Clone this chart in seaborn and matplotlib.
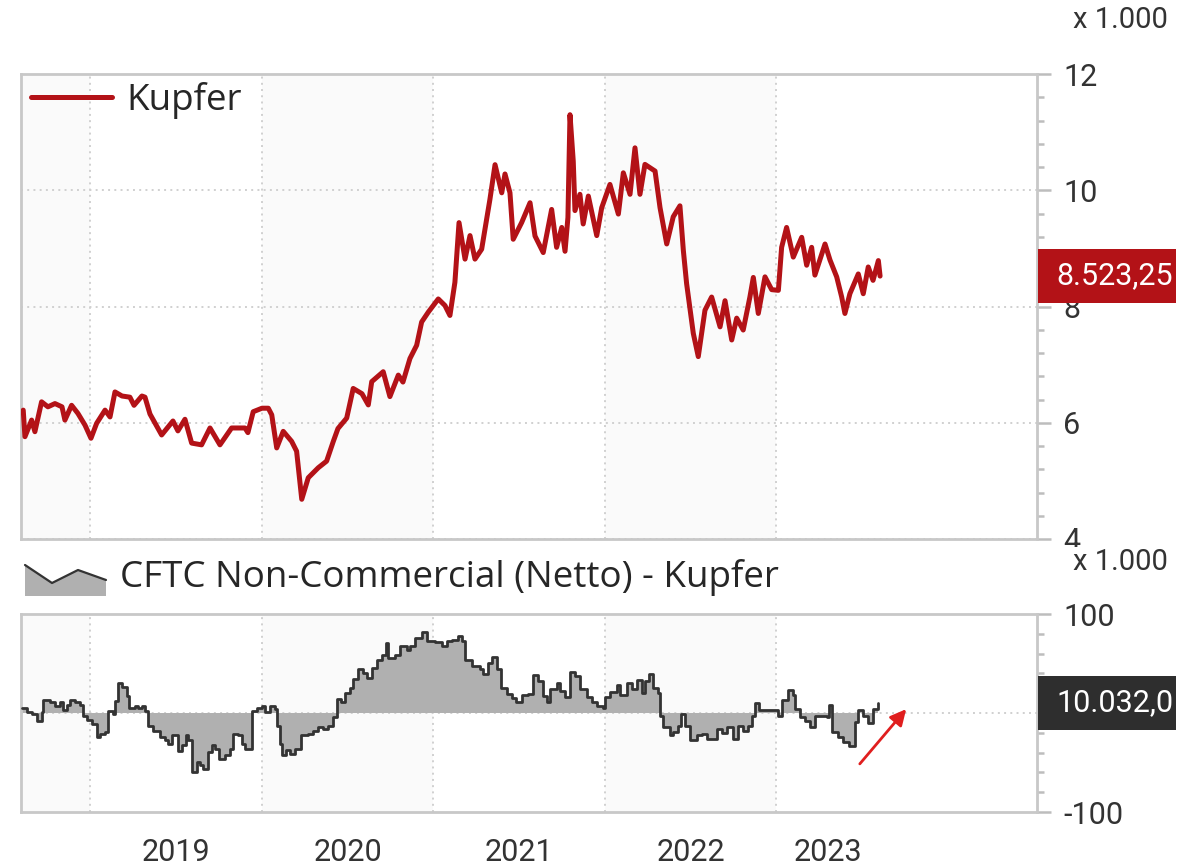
import numpy as np
import pandas as pd
import matplotlib
matplotlib.use("Agg")
import matplotlib.pyplot as plt
from matplotlib.patches import Rectangle, Polygon
from matplotlib.lines import Line2D
from matplotlib.transforms import IdentityTransform, blended_transform_factory
from matplotlib.ticker import MultipleLocator, FixedLocator, FuncFormatter
import seaborn as sns

# copper price (USD/t), dates as decimal years
price_years = [
    2018.608, 2018.618, 2018.657, 2018.676, 2018.715, 2018.752, 2018.793, 2018.834, 2018.851, 2018.890,
    2018.927, 2018.968, 2019.003, 2019.036, 2019.085, 2019.114, 2019.143, 2019.184, 2019.230, 2019.254,
    2019.300, 2019.318, 2019.347, 2019.415, 2019.481, 2019.510, 2019.551, 2019.590, 2019.648, 2019.697,
    2019.755, 2019.823, 2019.901, 2019.918, 2019.949, 2020.000, 2020.037, 2020.057, 2020.086, 2020.124,
    2020.173, 2020.202, 2020.232, 2020.270, 2020.328, 2020.377, 2020.416, 2020.443, 2020.494, 2020.532,
    2020.583, 2020.620, 2020.640, 2020.707, 2020.746, 2020.795, 2020.822, 2020.863, 2020.902, 2020.931,
    2020.970, 2021.028, 2021.067, 2021.096, 2021.125, 2021.149, 2021.184, 2021.213, 2021.242, 2021.281,
    2021.310, 2021.329, 2021.359, 2021.398, 2021.417, 2021.446, 2021.465, 2021.514, 2021.563, 2021.592,
    2021.640, 2021.689, 2021.718, 2021.748, 2021.767, 2021.784, 2021.796, 2021.815, 2021.825, 2021.854,
    2021.873, 2021.903, 2021.952, 2021.981, 2022.029, 2022.078, 2022.107, 2022.146, 2022.175, 2022.204,
    2022.233, 2022.292, 2022.321, 2022.360, 2022.398, 2022.437, 2022.457, 2022.476, 2022.515, 2022.544,
    2022.583, 2022.622, 2022.671, 2022.700, 2022.739, 2022.768, 2022.806, 2022.845, 2022.865, 2022.894,
    2022.933, 2022.972, 2023.011, 2023.030, 2023.059, 2023.098, 2023.147, 2023.176, 2023.205, 2023.224,
    2023.283, 2023.312, 2023.351, 2023.380, 2023.399, 2023.428, 2023.477, 2023.506, 2023.535, 2023.563,
    2023.594, 2023.604,
]
price_values = [
    6217, 5760, 6046, 5846, 6360, 6274, 6330, 6274, 6046, 6300,
    6160, 5960, 5733, 5990, 6217, 6100, 6530, 6460, 6440, 6300,
    6460, 6440, 6150, 5790, 6030, 5860, 6060, 5650, 5620, 5910,
    5620, 5910, 5910, 5830, 6190, 6250, 6250, 6136, 5567, 5852,
    5680, 5510, 4683, 5054, 5225, 5340, 5680, 5900, 6080, 6590,
    6500, 6307, 6707, 6878, 6450, 6820, 6700, 7106, 7333, 7733,
    7904, 8130, 8017, 7846, 8417, 9443, 8815, 9220, 8815, 8986,
    9500, 9840, 10440, 9956, 10280, 9956, 9157, 9443, 9785, 9213,
    8928, 9670, 9018, 9360, 8950, 9532, 11300, 10500, 9650, 9930,
    9420, 9900, 9220, 9700, 10100, 9590, 10300, 9930, 10730, 9930,
    10445, 10330, 9700, 9076, 9544, 9732, 8962, 8393, 7538, 7138,
    7936, 8163, 7650, 8100, 7424, 7800, 7595, 8163, 8500, 7880,
    8510, 8290, 8278, 9018, 9360, 8850, 9190, 8710, 9018, 8540,
    9075, 8800, 8510, 8165, 7880, 8220, 8560, 8220, 8680, 8450,
    8790, 8523.25,
]

# CFTC non-commercial net position (x 1.000 contracts)
cftc_years = [
    2018.602, 2018.628, 2018.657, 2018.686, 2018.715, 2018.725, 2018.764, 2018.793, 2018.822, 2018.841,
    2018.861, 2018.880, 2018.910, 2018.939, 2018.958, 2018.978, 2019.010, 2019.036, 2019.055, 2019.085,
    2019.104, 2019.133, 2019.143, 2019.162, 2019.182, 2019.211, 2019.224, 2019.259, 2019.279, 2019.299,
    2019.318, 2019.337, 2019.366, 2019.405, 2019.434, 2019.454, 2019.473, 2019.508, 2019.532, 2019.555,
    2019.570, 2019.590, 2019.619, 2019.638, 2019.658, 2019.687, 2019.707, 2019.726, 2019.749, 2019.784,
    2019.813, 2019.833, 2019.858, 2019.882, 2019.901, 2019.943, 2019.969, 2019.998, 2020.017, 2020.047,
    2020.076, 2020.086, 2020.105, 2020.115, 2020.138, 2020.163, 2020.192, 2020.227, 2020.270, 2020.299,
    2020.328, 2020.357, 2020.387, 2020.416, 2020.436, 2020.461, 2020.484, 2020.513, 2020.532, 2020.562,
    2020.591, 2020.611, 2020.640, 2020.669, 2020.698, 2020.721, 2020.736, 2020.776, 2020.805, 2020.844,
    2020.863, 2020.892, 2020.935, 2020.960, 2021.009, 2021.048, 2021.077, 2021.106, 2021.145, 2021.165,
    2021.184, 2021.223, 2021.271, 2021.291, 2021.320, 2021.339, 2021.369, 2021.392, 2021.427, 2021.456,
    2021.481, 2021.514, 2021.553, 2021.579, 2021.611, 2021.640, 2021.660, 2021.679, 2021.718, 2021.738,
    2021.767, 2021.796, 2021.825, 2021.854, 2021.893, 2021.922, 2021.952, 2021.987, 2022.000, 2022.029,
    2022.068, 2022.088, 2022.127, 2022.156, 2022.188, 2022.214, 2022.233, 2022.258, 2022.282, 2022.311,
    2022.321, 2022.340, 2022.379, 2022.398, 2022.428, 2022.442, 2022.467, 2022.496, 2022.535, 2022.564,
    2022.593, 2022.651, 2022.681, 2022.710, 2022.748, 2022.777, 2022.806, 2022.836, 2022.855, 2022.875,
    2022.900, 2023.011, 2023.030, 2023.069, 2023.098, 2023.108, 2023.137, 2023.166, 2023.196, 2023.224,
    2023.264, 2023.293, 2023.308, 2023.322, 2023.360, 2023.390, 2023.425, 2023.458, 2023.477, 2023.506,
    2023.535, 2023.564, 2023.594,
]
cftc_net = [
    5.0, 0.7, -1.0, -7.7, 0.7, 13.3, 10.7, 7.3, 10.7, 3.3,
    8.0, 13.3, 11.3, 8.0, -2.7, -6.7, -11.0, -24.3, -21.0, -18.7,
    2.3, -1.0, 12.3, 30.7, 26.7, 17.3, 4.7, 7.3, 4.7, 7.3,
    2.3, -12.7, -17.7, -24.3, -27.7, -31.0, -22.7, -38.7, -32.7, -22.7,
    -27.7, -59.3, -49.3, -52.7, -56.7, -39.3, -32.7, -36.0, -46.7, -42.7,
    -36.0, -21.0, -22.7, -31.0, -36.7, 2.3, 4.7, 7.3, 0.7, 7.3,
    4.0, -12.7, -31.0, -42.7, -37.7, -41.0, -36.0, -22.7, -21.0, -17.7,
    -14.3, -16.0, -12.7, -4.3, 14.0, 10.7, 20.7, 25.7, 34.0, 44.0,
    40.7, 35.7, 45.7, 54.0, 59.0, 70.7, 55.7, 59.0, 67.3, 63.3,
    68.0, 75.7, 82.3, 72.3, 71.7, 67.3, 72.3, 74.0, 77.3, 72.3,
    54.0, 47.3, 44.0, 39.0, 50.7, 56.7, 44.0, 25.7, 19.0, 14.7,
    10.7, 18.0, 19.0, 38.0, 32.3, 16.7, 10.7, 24.7, 30.7, 22.3,
    15.7, 41.3, 37.3, 24.0, 15.7, 10.7, 7.3, 4.7, 15.7, 21.3,
    28.0, 18.0, 30.7, 24.0, 33.3, 20.7, 32.3, 39.0, 25.7, 20.7,
    -2.7, -14.3, -22.7, -19.3, -13.3, -1.0, -13.3, -27.7, -22.7, -21.0,
    -26.0, -16.0, -20.0, -14.3, -26.0, -13.3, -17.7, -12.7, -3.3, 10.0,
    3.3, -3.3, 13.3, 23.3, 18.0, 4.0, -4.3, -7.7, -14.3, -2.7,
    -3.3, -4.3, 8.0, -18.7, -24.3, -29.3, -33.3, -9.3, 3.3, -2.7,
    -10.0, 4.0, 10.032,
]

year_labels = ["2019", "2020", "2021", "2022", "2023"]

RED = "#b31217"
DARK = "#2e2e2e"
FILL = "#b0b0b0"
FRAME = "#c8c8c8"
GRID = "#d0d0d0"
TXT = "#262626"
W, H = 1191, 868
X0, X1 = 2018.595, 2024.519
LEGEND_FONT = ["Open Sans", "DejaVu Sans"]


def de_num(v, nd):
    s = f"{v:,.{nd}f}"
    return s.replace(",", "X").replace(".", ",").replace("X", ".")


def style_axes(ax, first, last):
    ax.set_xlim(X0, X1)
    ax.set_facecolor("white")
    # alternating year shading inside the data range
    for k, yr in enumerate(range(int(np.floor(first)), int(np.ceil(last)))):
        if k % 2 == 0:
            ax.axvspan(max(yr, X0), min(yr + 1, last), color="#fafafa", lw=0, zorder=0)
    for s in ax.spines.values():
        s.set_color(FRAME)
        s.set_linewidth(2)
    ax.grid(True, which="major", color=GRID, lw=1.4, ls=(0, (1, 2.2)))
    ax.set_axisbelow(True)
    ax.yaxis.tick_right()
    ax.tick_params(axis="y", which="major", length=10, width=1.8, color="#bdbdbd",
                   labelsize=22, labelcolor="#333333", pad=9)
    ax.tick_params(axis="y", which="minor", length=5, width=1.8, color="#bdbdbd")


def value_box(fig, ax, value, text, color):
    x0 = ax.transAxes.transform((1, 0))[0]
    y = ax.transData.transform((X0, value))[1]
    fig.add_artist(Rectangle((x0 + 1, y - 27), 138, 54, transform=IdentityTransform(),
                             facecolor=color, edgecolor="none", zorder=5))
    fig.text(x0 + 19, y, text, transform=IdentityTransform(), color="white",
             fontsize=22, va="center", ha="left", zorder=6)


def main():
    sns.set_style("white")
    plt.rcParams["font.family"] = ["Roboto", "DejaVu Sans"]

    price = pd.DataFrame({"year": price_years, "price": price_values})
    cftc = pd.DataFrame({"year": cftc_years, "net": cftc_net})
    first = min(price["year"].min(), cftc["year"].min())
    last = max(price["year"].max(), cftc["year"].max())

    fig = plt.figure(figsize=(W / 100, H / 100), dpi=100)
    ax1 = fig.add_axes([21 / W, 1 - 539 / H, 1016 / W, 465 / H])
    ax2 = fig.add_axes([21 / W, 1 - 812 / H, 1016 / W, 198 / H])

    years = np.arange(np.ceil(first), np.floor(last) + 1)
    quarters = np.arange(np.ceil(first * 4) / 4, np.floor(last * 4) / 4 + 0.01, 0.25)

    # --- price panel
    style_axes(ax1, first, last)
    sns.lineplot(data=price, x="year", y="price", ax=ax1, color=RED, lw=3.6,
                 errorbar=None, label="Kupfer", zorder=3)
    ax1.set_xlabel("")
    ax1.set_ylabel("")
    ax1.set_ylim(4000, 12000)
    ax1.yaxis.set_major_locator(MultipleLocator(2000))
    ax1.yaxis.set_minor_locator(MultipleLocator(400))
    ax1.yaxis.set_major_formatter(FuncFormatter(lambda v, _: f"{v / 1000:g}"))
    ax1.set_xticks(years)
    ax1.tick_params(axis="x", bottom=False, labelbottom=False)
    leg = ax1.legend(loc="center left", bbox_to_anchor=(0.01, 0.944), frameon=False,
                     prop={"family": LEGEND_FONT, "size": 26.5}, handlelength=2.2,
                     handletextpad=0.4, borderpad=0, borderaxespad=0)
    for t in leg.get_texts():
        t.set_color(TXT)
    for h in leg.get_lines():
        h.set_linewidth(3.6)

    # --- CFTC panel
    style_axes(ax2, first, last)
    ax2.fill_between(cftc["year"], cftc["net"], 0, step="post", color=FILL, lw=0, zorder=2)
    sns.lineplot(data=cftc, x="year", y="net", ax=ax2, color="#333333", lw=2,
                 drawstyle="steps-post", errorbar=None, zorder=3)
    ax2.set_xlabel("")
    ax2.set_ylabel("")
    ax2.set_ylim(-100, 100)
    ax2.yaxis.set_major_locator(MultipleLocator(100))
    ax2.yaxis.set_minor_locator(MultipleLocator(20))
    # the zero label sits behind the last-value box
    ax2.yaxis.set_major_formatter(FuncFormatter(lambda v, _: "" if v == 0 else f"{v:g}"))
    ax2.xaxis.set_major_locator(FixedLocator(years))
    ax2.xaxis.set_minor_locator(FixedLocator([q for q in quarters if q % 1 != 0]))
    ax2.tick_params(axis="x", which="major", length=10, width=1.8, color="#bdbdbd",
                    labelbottom=False)
    ax2.tick_params(axis="x", which="minor", length=5, width=1.8, color="#bdbdbd")
    ax2.grid(False, axis="y")
    ax2.axhline(0, color=GRID, lw=1.4, ls=(0, (1, 2.2)), zorder=1)

    # year labels centred in each year (last one within the data range)
    trans = blended_transform_factory(ax2.transData, ax2.transAxes)
    for lab in year_labels:
        yr = int(lab)
        xc = yr + 0.5 if yr + 1 <= last else (yr + last) / 2
        ax2.text(xc, -0.205, lab, transform=trans, ha="center", va="center",
                 fontsize=22, color="#333333")

    # legend of the lower panel
    fig.add_artist(Polygon([(25, H - 565), (52, H - 583), (78, H - 570), (106, H - 580),
                            (106, H - 596), (25, H - 596)], closed=True,
                           transform=IdentityTransform(), facecolor=FILL, edgecolor="none"))
    fig.add_artist(Line2D([25, 52, 78, 106], [H - 565, H - 583, H - 570, H - 580],
                          transform=IdentityTransform(), color="#333333", lw=1.6))
    fig.text(120, H - 577, "CFTC Non-Commercial (Netto) - Kupfer", transform=IdentityTransform(),
             family=LEGEND_FONT, fontsize=26.5, color=TXT, va="center", ha="left")

    # unit labels
    for ypix in (20, 562):
        fig.text(1073, H - ypix, "x 1.000", transform=IdentityTransform(), fontsize=21,
                 color="#333333", va="center", ha="left",
                 bbox=dict(facecolor="white", edgecolor="none", pad=1))

    # last value boxes
    value_box(fig, ax1, price_values[-1], de_num(price_values[-1], 2), RED)
    value_box(fig, ax2, cftc_net[-1], de_num(cftc_net[-1] * 1000, 1), DARK)

    # red arrow annotation
    ax2.annotate("", xy=(908, H - 707), xytext=(858, H - 766), xycoords="figure pixels",
                 textcoords="figure pixels",
                 arrowprops=dict(arrowstyle="-|>", color="#e01e1e", lw=2, mutation_scale=24))

    fig.savefig("out.png", dpi=100)


if __name__ == "__main__":
    main()
